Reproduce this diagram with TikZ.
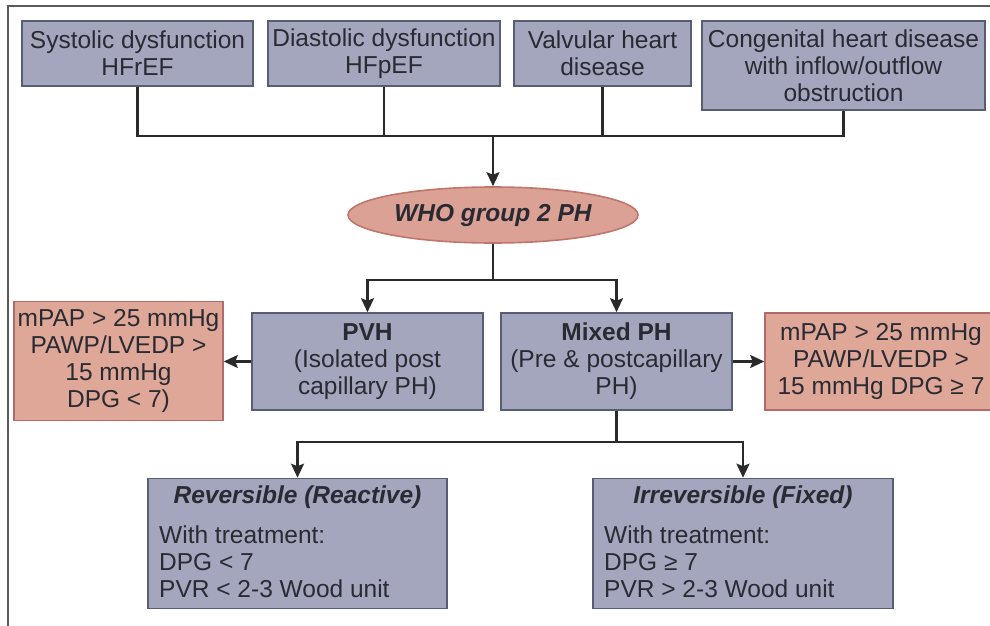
\documentclass[tikz,border=0pt]{standalone}
\usepackage{fontspec}
\setmainfont{Liberation Sans}
\usetikzlibrary{arrows.meta,shapes.geometric}
\definecolor{boxfill}{HTML}{A4A6BE}
\definecolor{boxline}{HTML}{585D76}
\definecolor{salfill}{HTML}{DEA797}
\definecolor{salline}{HTML}{B4696A}
\definecolor{ellfill}{HTML}{DAA194}
\definecolor{ellline}{HTML}{C0766C}
\definecolor{txt}{HTML}{2A2A33}
\definecolor{conn}{HTML}{2A2A2A}
\definecolor{framec}{HTML}{5A5A5A}
\newcommand{\dfont}{\fontsize{24.5}{27}\selectfont}
\begin{document}
\begin{tikzpicture}[x=1pt,y=-1pt,
  bluebox/.style={draw=boxline, fill=boxfill, line width=1.6pt, text=txt, align=center, inner sep=0pt, font=\dfont},
  salbox/.style={draw=salline, fill=salfill, line width=1.6pt, text=txt, align=center, inner sep=0pt, font=\dfont},
  whoell/.style={ellipse, draw=ellline, fill=ellfill, line width=1.6pt, text=txt, inner sep=0pt, font=\dfont\bfseries\itshape},
  conline/.style={draw=conn, line width=2.2pt},
  arr/.style={conline, -{Stealth[length=14pt,width=13pt,inset=2.5pt]}},
  plaintext/.style={text=txt, inner sep=0pt, font=\dfont}
]
\useasboundingbox (0,0) rectangle (990,626);
\clip (0,0) rectangle (990,626);

% frame
\draw[framec, line width=1.5pt] (8,630) -- (8,6) -- (995,6);

% top boxes
\node[bluebox, minimum width=231pt, minimum height=65pt] (sys) at (137.5,53.5) {Systolic dysfunction\\HFrEF};
\node[bluebox, minimum width=232pt, minimum height=65pt] (dia) at (384,53.5) {Diastolic dysfunction\\HFpEF};
\node[bluebox, minimum width=177pt, minimum height=65pt] (val) at (602.5,53.5) {Valvular heart\\disease};
\node[bluebox, minimum width=283pt, minimum height=89pt] (con) at (843.5,65.5) {Congenital heart disease\\with inflow/outflow\\obstruction};

% ellipse
\node[whoell, minimum width=290pt, minimum height=56pt] (who) at (493,215) {WHO group 2 PH};

% middle boxes
\node[bluebox, minimum width=231pt, minimum height=97pt] (pvh) at (367.5,361.5) {\textbf{PVH}\\(Isolated post\\capillary PH)};
\node[bluebox, minimum width=231pt, minimum height=97pt] (mix) at (616.5,361.5) {\textbf{Mixed PH}\\(Pre \& postcapillary\\PH)};
\node[salbox, minimum width=209pt, minimum height=119pt] (lsal) at (118.5,361) {mPAP > 25 mmHg\\PAWP/LVEDP >\\15 mmHg\\DPG < 7)};
\node[salbox, minimum width=232pt, minimum height=97pt] (rsal) at (881,361.5) {mPAP > 25 mmHg\\PAWP/LVEDP >\\15 mmHg DPG ≥ 7};

% bottom boxes
\node[bluebox, minimum width=299pt, minimum height=130pt] (rev) at (297.5,543.5) {};
\node[bluebox, minimum width=300pt, minimum height=130pt] (irr) at (743,543.5) {};
\node[plaintext, font=\dfont\bfseries\itshape] (revt) at (297.5,497) {Reversible (Reactive)};
\node[plaintext, align=left, anchor=west] (revb) at (159,562) {With treatment:\\DPG < 7\\PVR < 2-3 Wood unit};
\node[plaintext, font=\dfont\bfseries\itshape] (irrt) at (743,497) {Irreversible (Fixed)};
\node[plaintext, align=left, anchor=west] (irrb) at (604,562) {With treatment:\\DPG ≥ 7\\PVR > 2-3 Wood unit};

% connectors
\coordinate (bus1) at (493,136);
\coordinate (bus2) at (493,280);
\coordinate (bus3) at (616.5,442);
\draw[conline] (sys.south) -- (sys.south |- bus1) -- (con.south |- bus1) -- (con.south);
\draw[conline] (dia.south) -- (dia.south |- bus1);
\draw[conline] (val.south) -- (val.south |- bus1);
\draw[arr] (bus1) -- (who.north);
\draw[conline] (who.south) -- (bus2);
\draw[arr] (bus2) -| (pvh.north);
\draw[arr] (bus2) -| (mix.north);
\draw[arr] (pvh.west) -- (pvh.west -| lsal.east);
\draw[arr] (mix.east) -- (mix.east -| rsal.west);
\draw[conline] (mix.south) -- (bus3);
\draw[arr] (bus3) -| (rev.north);
\draw[arr] (bus3) -| (irr.north);
\end{tikzpicture}
\end{document}
